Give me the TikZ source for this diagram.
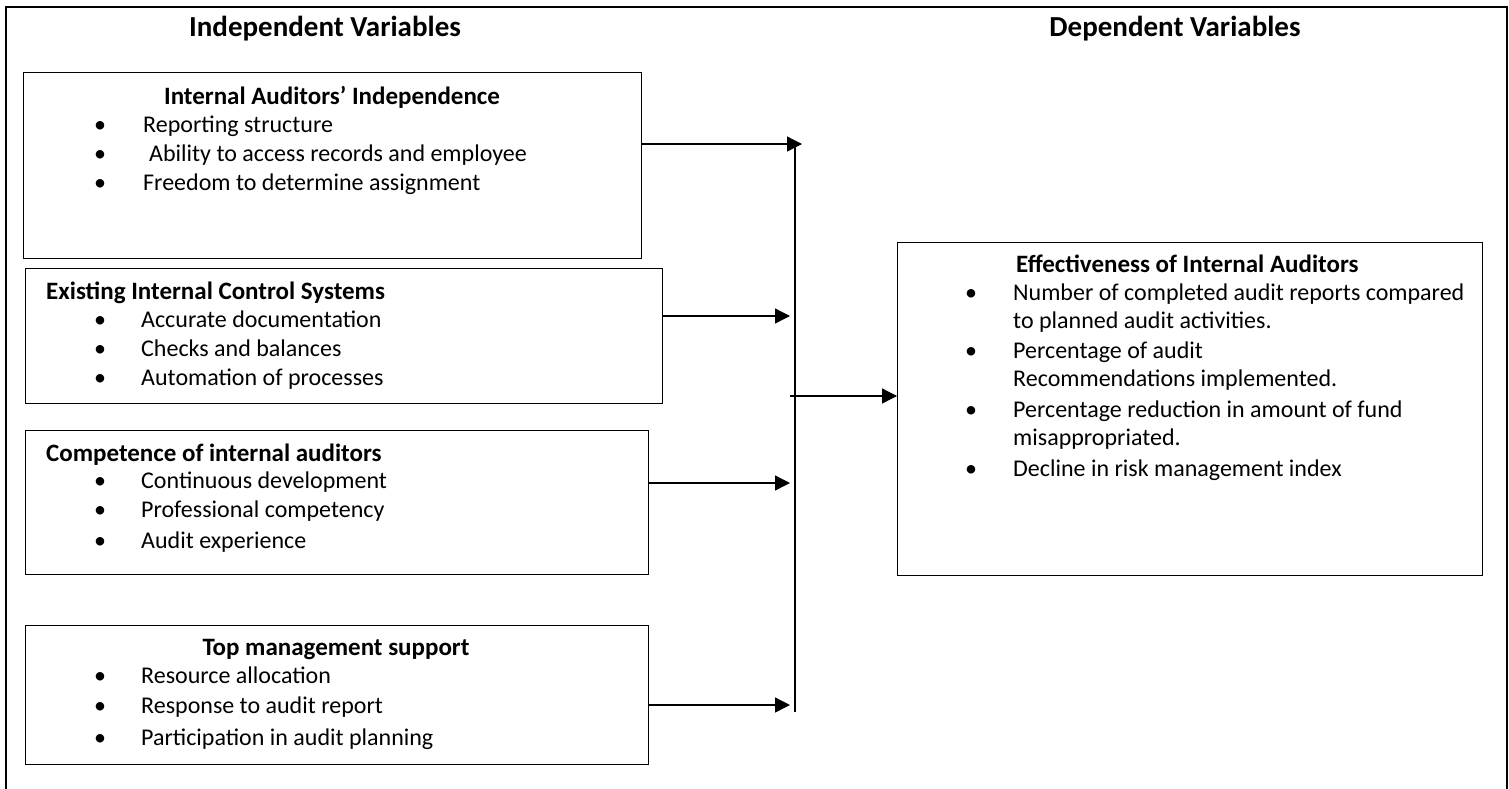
\documentclass[tikz,border=0pt]{standalone}
\usepackage{fontspec}
\setmainfont{Carlito}
\usetikzlibrary{arrows.meta}
\begin{document}
\begin{tikzpicture}[x=1pt,y=-1pt,
  frame/.style={line width=1.3pt},
  boxnode/.style={draw, line width=1.3pt, inner sep=0pt, anchor=north west},
  head/.style={font=\fontsize{29}{34}\selectfont\bfseries, inner sep=0pt, anchor=base},
  ttl/.style={font=\fontsize{25}{30}\selectfont\bfseries, inner sep=0pt},
  itm/.style={font=\fontsize{24}{29}\selectfont, inner sep=0pt, anchor=base west},
  bul/.style={font=\fontsize{24}{29}\selectfont, inner sep=0pt, anchor=base},
  arr/.style={line width=1.3pt, -{Triangle[length=15pt,width=15pt]}},
  bus/.style={line width=1.3pt}]
\useasboundingbox (0,0) rectangle (1509,788);
\draw[frame] (6,790) -- (6,7) -- (1507,7) -- (1507,790);
\node[head] (hind) at (325,36) {Independent Variables};
\node[head] (hdep) at (1175,36) {Dependent Variables};
% box 1
\node[boxnode, minimum width=618pt, minimum height=186pt] (b1) at (23,72) {};
\node[ttl, anchor=base] (t1) at (332,104) {Internal Auditors’ Independence};
\node[bul] (b1a) at (100,132) {•};
\node[bul] (b1b) at (100,161) {•};
\node[bul] (b1c) at (100,190) {•};
\node[itm] (i1a) at (143,132) {Reporting structure};
\node[itm] (i1b) at (149,161) {Ability to access records and employee};
\node[itm] (i1c) at (143,190) {Freedom to determine assignment};
% box 2
\node[boxnode, minimum width=637pt, minimum height=135pt] (b2) at (25,268) {};
\node[ttl, anchor=base west] (t2) at (46,299) {Existing Internal Control Systems};
\node[bul] (b2a) at (100,327) {•};
\node[bul] (b2b) at (100,356) {•};
\node[bul] (b2c) at (100,385) {•};
\node[itm] (i2a) at (141,327) {Accurate documentation};
\node[itm] (i2b) at (141,356) {Checks and balances};
\node[itm] (i2c) at (141,385) {Automation of processes};
% box 3
\node[boxnode, minimum width=623pt, minimum height=144pt] (b3) at (25,430) {};
\node[ttl, anchor=base west] (t3) at (46,461) {Competence of internal auditors};
\node[bul] (b3a) at (100,488) {•};
\node[bul] (b3b) at (100,517) {•};
\node[bul] (b3c) at (100,548) {•};
\node[itm] (i3a) at (141,488) {Continuous development};
\node[itm] (i3b) at (141,517) {Professional competency};
\node[itm] (i3c) at (141,548) {Audit experience};
% box 4
\node[boxnode, minimum width=623pt, minimum height=139pt] (b4) at (25,625) {};
\node[ttl, anchor=base] (t4) at (336,655) {Top management support};
\node[bul] (b4a) at (100,683) {•};
\node[bul] (b4b) at (100,713) {•};
\node[bul] (b4c) at (100,745) {•};
\node[itm] (i4a) at (141,683) {Resource allocation};
\node[itm] (i4b) at (141,713) {Response to audit report};
\node[itm] (i4c) at (141,745) {Participation in audit planning};
% right box
\node[boxnode, minimum width=585pt, minimum height=333pt] (r) at (897,242) {};
\node[ttl, anchor=base west] (tr) at (1016,272) {Effectiveness of Internal Auditors};
\node[bul] (ra) at (971,300) {•};
\node[bul] (rb) at (971,358) {•};
\node[bul] (rc) at (971,417) {•};
\node[bul] (rd) at (971,476) {•};
\node[itm] (ra1) at (1013,300) {Number of completed audit reports compared};
\node[itm] (ra2) at (1013,328) {to planned audit activities.};
\node[itm] (rb1) at (1013,358) {Percentage of audit};
\node[itm] (rb2) at (1013,386) {Recommendations implemented.};
\node[itm] (rc1) at (1013,417) {Percentage reduction in amount of fund};
\node[itm] (rc2) at (1013,445) {misappropriated.};
\node[itm] (rd1) at (1013,476) {Decline in risk management index};
% connectors
\coordinate (bt) at (795,144);
\coordinate (bb) at (795,712);
\draw[bus] (bt) -- (bb);
\coordinate (e1) at (802,144);
\coordinate (e2) at (790,316);
\coordinate (e3) at (790,483);
\coordinate (e4) at (790,705);
\coordinate (s5) at (790,396);
\draw[arr] (b1.east |- e1) -- (e1);
\draw[arr] (b2.east |- e2) -- (e2);
\draw[arr] (b3.east |- e3) -- (e3);
\draw[arr] (b4.east |- e4) -- (e4);
\draw[arr] (s5) -- (r.west |- s5);
\end{tikzpicture}
\end{document}
